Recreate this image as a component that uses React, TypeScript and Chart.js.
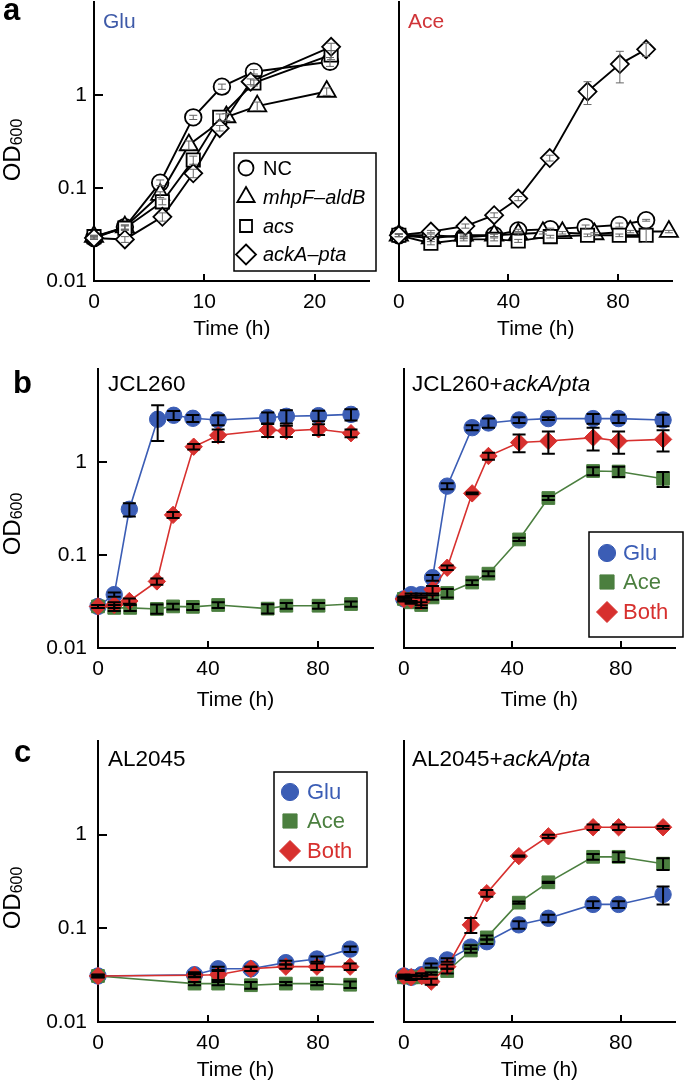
import React, { useEffect, useRef } from 'react';
import { Chart, registerables } from 'chart.js';
Chart.register(...registerables);

const FONT = '"Liberation Sans", Arial, Helvetica, sans-serif';
const BLUE = '#3b5db5';
const GREEN = '#4b7f3f';
const RED = '#d7302e';

// ---------- tick data ----------
const yTickValues = [0.01, 0.1, 1, 10];
const yTickLabels = ['0.01', '0.1', '1', null];
const shortTimeTicks = [0, 5, 10, 15, 20, 25];
const shortTimeLabels = ['0', null, '10', null, '20', null];
const longTimeTicks = [0, 20, 40, 60, 80, 100];
const longTimeLabels = ['0', null, '40', null, '80', null];

// ---------- panel a, Glu ----------
const aGluTimeNC = [0, 2.8, 6.0, 9.0, 11.6, 14.5, 21.4];
const aGluNC = [0.029, 0.038, 0.114, 0.575, 1.23, 1.78, 2.28];
const aGluNCsd = [0.001, 0.002, 0.008, 0.03, 0.08, 0.1, 0.25];
const aGluTimeMhpF = [0, 2.8, 6.0, 8.6, 12.0, 14.8, 21.1];
const aGluMhpF = [0.030, 0.038, 0.085, 0.29, 0.58, 0.76, 1.09];
const aGluMhpFsd = [0.001, 0.002, 0.006, 0.03, 0.05, 0.08, 0.1];
const aGluTimeAcs = [0, 2.8, 6.2, 9.0, 11.4, 14.5, 21.5];
const aGluAcs = [0.030, 0.037, 0.071, 0.20, 0.575, 1.35, 2.7];
const aGluAcssd = [0.001, 0.002, 0.005, 0.02, 0.05, 0.1, 0.3];
const aGluTimeAck = [0, 2.8, 6.2, 9.0, 11.4, 14.2, 21.5];
const aGluAck = [0.029, 0.028, 0.049, 0.144, 0.44, 1.39, 3.3];
const aGluAcksd = [0.001, 0.002, 0.005, 0.015, 0.03, 0.1, 0.3];

// ---------- panel a, Ace ----------
const aAceTimeNC = [0, 11.7, 23.7, 34.8, 43.6, 55.3, 68.2, 80.5, 90.3];
const aAceNC = [0.031, 0.031, 0.0295, 0.031, 0.035, 0.036, 0.038, 0.040, 0.045];
const aAceNCsd = [0.001, 0.001, 0.001, 0.001, 0.001, 0.001, 0.002, 0.002, 0.001];
const aAceTimeMhpF = [0, 11.7, 23.7, 34.8, 43.6, 52.6, 59.7, 71.4, 84.5, 98.6];
const aAceMhpF = [0.031, 0.029, 0.031, 0.031, 0.032, 0.033, 0.033, 0.032, 0.034, 0.034];
const aAceMhpFsd = [0.001, 0.001, 0.001, 0.001, 0.001, 0.001, 0.001, 0.001, 0.001, 0.001];
const aAceTimeAcs = [0, 11.7, 23.7, 34.8, 43.6, 55.3, 68.9, 80.5, 90.3];
const aAceAcs = [0.031, 0.0255, 0.028, 0.028, 0.027, 0.030, 0.031, 0.031, 0.031];
const aAceAcssd = [0.001, 0.001, 0.001, 0.001, 0.001, 0.001, 0.001, 0.001, 0.005];
const aAceTimeAck = [0, 11.7, 24.3, 34.8, 43.6, 55.1, 68.9, 80.7, 90.3];
const aAceAck = [0.031, 0.034, 0.039, 0.051, 0.077, 0.21, 1.09, 2.15, 3.1];
const aAceAcksd = [0.001, 0.001, 0.002, 0.003, 0.004, 0.015, 0.3, 0.8, 0.5];

// ---------- panel b, JCL260 ----------
const bLeftTimeGlu = [0, 5.9, 11.4, 21.7, 27.5, 34.5, 43.7, 61.7, 68.5, 80.2, 92];
const bLeftGlu = [0.028, 0.0375, 0.31, 2.88, 3.18, 2.95, 2.83, 3.0, 3.1, 3.15, 3.25];
const bLeftGlusd = [0.001, 0.002, 0.05, 1.2, 0.35, 0.25, 0.35, 0.4, 0.5, 0.4, 0.45];
const bLeftTimeAce = [0, 5.9, 11.7, 21.4, 27.3, 34.5, 43.7, 61.7, 68.5, 80.2, 92];
const bLeftAce = [0.028, 0.027, 0.027, 0.0263, 0.028, 0.0277, 0.029, 0.0265, 0.0285, 0.0285, 0.0297];
const bLeftAcesd = [0.001, 0.002, 0.002, 0.003, 0.002, 0.002, 0.002, 0.003, 0.002, 0.002, 0.002];
const bLeftTimeBoth = [0, 5.9, 11.4, 21.4, 27.3, 34.8, 43.7, 61.7, 68.5, 80.2, 92];
const bLeftBoth = [0.028, 0.029, 0.032, 0.052, 0.27, 1.46, 1.94, 2.21, 2.16, 2.25, 2.04];
const bLeftBothsd = [0.001, 0.002, 0.002, 0.004, 0.02, 0.1, 0.3, 0.35, 0.3, 0.3, 0.2];

// ---------- panel b, JCL260+ackA/pta ----------
const bRightTime = [0, 2.7, 6.4, 10.6, 16, 25.2, 31.2, 42.5, 53.3, 69.8, 79.2, 95.6];
const bRightGlu = [0.0337, 0.0375, 0.0375, 0.057, 0.55, 2.34, 2.63, 2.83, 2.93, 2.93, 2.93, 2.83];
const bRightGlusd = [0.001, 0.001, 0.001, 0.004, 0.04, 0.15, 0.3, 0.2, 0.1, 0.35, 0.3, 0.4];
const bRightAce = [0.0337, 0.031, 0.029, 0.035, 0.039, 0.0506, 0.063, 0.147, 0.41, 0.80, 0.79, 0.66];
const bRightAcesd = [0.001, 0.001, 0.002, 0.002, 0.004, 0.003, 0.004, 0.006, 0.02, 0.08, 0.1, 0.12];
const bRightBoth = [0.0337, 0.033, 0.0318, 0.0425, 0.073, 0.46, 1.16, 1.62, 1.68, 1.83, 1.68, 1.75];
const bRightBothsd = [0.002, 0.002, 0.003, 0.004, 0.004, 0.01, 0.1, 0.35, 0.45, 0.5, 0.45, 0.45];

// ---------- panel c, AL2045 ----------
const cLeftTime = [0, 35.1, 43.7, 55.6, 68.3, 79.6, 91.7];
const cLeftGlu = [0.031, 0.032, 0.037, 0.037, 0.043, 0.047, 0.060];
const cLeftGlusd = [0.001, 0.002, 0.002, 0.002, 0.002, 0.003, 0.004];
const cLeftAce = [0.031, 0.0257, 0.0257, 0.0247, 0.0257, 0.0257, 0.025];
const cLeftAcesd = [0.001, 0.001, 0.001, 0.002, 0.001, 0.001, 0.002];
const cLeftBoth = [0.031, 0.0316, 0.032, 0.037, 0.039, 0.039, 0.039];
const cLeftBothsd = [0.001, 0.001, 0.004, 0.002, 0.002, 0.003, 0.003];

// ---------- panel c, AL2045+ackA/pta ----------
const cRightTime = [0, 2.7, 6.6, 10.1, 16, 24.7, 30.6, 42.4, 53.3, 69.8, 79.2, 95.6];
const cRightGlu = [0.031, 0.030, 0.032, 0.040, 0.046, 0.063, 0.072, 0.109, 0.128, 0.18, 0.18, 0.23];
const cRightGlusd = [0.001, 0.001, 0.001, 0.002, 0.002, 0.003, 0.004, 0.01, 0.012, 0.015, 0.015, 0.05];
const cRightAce = [0.030, 0.030, 0.030, 0.033, 0.035, 0.058, 0.080, 0.188, 0.31, 0.58, 0.58, 0.49];
const cRightAcesd = [0.001, 0.001, 0.001, 0.001, 0.002, 0.003, 0.004, 0.005, 0.005, 0.04, 0.07, 0.07];
const cRightBoth = [0.031, 0.030, 0.031, 0.027, 0.039, 0.109, 0.237, 0.59, 0.96, 1.2, 1.2, 1.2];
const cRightBothsd = [0.001, 0.002, 0.002, 0.002, 0.002, 0.02, 0.02, 0.01, 0.04, 0.08, 0.08, 0.04];

// ---------- styles ----------
const ST_A = {
  NC: { shape: 'circle', r: 8.3, lr: 7.5, italic: false },
  mhpF: { shape: 'triangle', r: 10.5, lr: 10, italic: true },
  acs: { shape: 'rect', r: 9.4, lr: 8.5, italic: true },
  ack: { shape: 'rectRot', r: 9, lr: 10, italic: true },
};
const ST_B = {
  Glu: { shape: 'circle', r: 8.2, lr: 8.6, color: BLUE },
  Ace: { shape: 'rect', r: 9, lr: 10, color: GREEN },
  Both: { shape: 'rectRot', r: 8.7, lr: 10.5, color: RED },
};

function dsA(label, t, v, sd, st) {
  return {
    label, data: t.map((x, i) => ({ x, y: v[i] })), errors: sd,
    showLine: true, borderColor: '#000', borderWidth: 1.9,
    pointStyle: st.shape, pointRadius: st.r, pointBackgroundColor: '#fff',
    pointBorderColor: '#000', pointBorderWidth: 1.8, clip: false,
    italic: st.italic, legendR: st.lr, legendFill: '#fff', legendStroke: '#000', textColor: '#000',
  };
}
function dsB(label, t, v, sd, st) {
  return {
    label, data: t.map((x, i) => ({ x, y: v[i] })), errors: sd,
    showLine: true, borderColor: st.color, borderWidth: 1.6,
    pointStyle: st.shape, pointRadius: st.r, pointBackgroundColor: st.color,
    pointBorderColor: st.color, pointBorderWidth: 1, clip: false,
    italic: false, legendR: st.lr, legendFill: st.color, legendStroke: st.color, textColor: st.color,
  };
}

const ERR_A = { color: '#666', width: 1, cap: 4 };
const ERR_BC = { color: '#000', width: 2, cap: 6.5 };
const PAD_TOP = 30;

function mkPanel(p) {
  const cl = p.plot[0] - p.yAxisW;
  const ct = p.plot[1] - PAD_TOP;
  const cw = p.yAxisW + (p.plot[2] - p.plot[0]) + p.padRight;
  const ch = PAD_TOP + (p.plot[3] - p.plot[1]) + p.xAxisH;
  let legend = null;
  if (p.legend) {
    const L = p.legend;
    legend = {
      box: [L.box[0] - cl, L.box[1] - ct, L.box[2] - cl, L.box[3] - ct],
      rows: L.rows.map((r) => r - ct), symX: L.symX - cl, textX: L.textX - cl,
      size: L.size, order: L.order,
    };
  }
  return { ...p, cl, ct, cw, ch, legend };
}

const PANELS = [
  mkPanel({
    key: 'aL', plot: [94, 2, 376, 281], yAxisW: 94, xAxisH: 61, padRight: 6,
    xMax: 25, xTicks: shortTimeTicks, xLabels: shortTimeLabels, yShow: true, yPad: 7, err: ERR_A,
    datasets: [
      dsA('ackA–pta', aGluTimeAck, aGluAck, aGluAcksd, ST_A.ack),
      dsA('acs', aGluTimeAcs, aGluAcs, aGluAcssd, ST_A.acs),
      dsA('mhpF–aldB', aGluTimeMhpF, aGluMhpF, aGluMhpFsd, ST_A.mhpF),
      dsA('NC', aGluTimeNC, aGluNC, aGluNCsd, ST_A.NC),
    ],
    legend: { box: [234, 153, 376, 271], rows: [168, 197, 226, 254.5], symX: 246, textX: 263, size: 20,
      order: ['NC', 'mhpF–aldB', 'acs', 'ackA–pta'] },
  }),
  mkPanel({
    key: 'aR', plot: [396, 2, 679, 281], yAxisW: 12, xAxisH: 61, padRight: 6,
    xMax: 100, xTicks: longTimeTicks, xLabels: longTimeLabels, yShow: false, yPad: 7, err: ERR_A,
    datasets: [
      dsA('ackA–pta', aAceTimeAck, aAceAck, aAceAcksd, ST_A.ack),
      dsA('acs', aAceTimeAcs, aAceAcs, aAceAcssd, ST_A.acs),
      dsA('mhpF–aldB', aAceTimeMhpF, aAceMhpF, aAceMhpFsd, ST_A.mhpF),
      dsA('NC', aAceTimeNC, aAceNC, aAceNCsd, ST_A.NC),
    ],
  }),
  mkPanel({
    key: 'bL', plot: [98, 369, 379, 648], yAxisW: 98, xAxisH: 65, padRight: 4,
    xMax: 100, xTicks: longTimeTicks, xLabels: longTimeLabels, yShow: true, yPad: 11, err: ERR_BC,
    datasets: [
      dsB('Both', bLeftTimeBoth, bLeftBoth, bLeftBothsd, ST_B.Both),
      dsB('Ace', bLeftTimeAce, bLeftAce, bLeftAcesd, ST_B.Ace),
      dsB('Glu', bLeftTimeGlu, bLeftGlu, bLeftGlusd, ST_B.Glu),
    ],
  }),
  mkPanel({
    key: 'bR', plot: [401, 369, 683, 648], yAxisW: 12, xAxisH: 65, padRight: 2,
    xMax: 100, xTicks: longTimeTicks, xLabels: longTimeLabels, yShow: false, yPad: 11, err: ERR_BC,
    datasets: [
      dsB('Both', bRightTime, bRightBoth, bRightBothsd, ST_B.Both),
      dsB('Ace', bRightTime, bRightAce, bRightAcesd, ST_B.Ace),
      dsB('Glu', bRightTime, bRightGlu, bRightGlusd, ST_B.Glu),
    ],
    legend: { box: [589, 532, 683, 637], rows: [553, 582, 612], symX: 607, textX: 623, size: 22,
      order: ['Glu', 'Ace', 'Both'] },
  }),
  mkPanel({
    key: 'cL', plot: [98, 741, 379, 1022], yAxisW: 98, xAxisH: 61, padRight: 4,
    xMax: 100, xTicks: longTimeTicks, xLabels: longTimeLabels, yShow: true, yPad: 11, err: ERR_BC,
    datasets: [
      dsB('Both', cLeftTime, cLeftBoth, cLeftBothsd, ST_B.Both),
      dsB('Ace', cLeftTime, cLeftAce, cLeftAcesd, ST_B.Ace),
      dsB('Glu', cLeftTime, cLeftGlu, cLeftGlusd, ST_B.Glu),
    ],
    legend: { box: [274, 772, 367, 867], rows: [792, 821, 851], symX: 290, textX: 307, size: 22,
      order: ['Glu', 'Ace', 'Both'] },
  }),
  mkPanel({
    key: 'cR', plot: [401, 741, 683, 1022], yAxisW: 12, xAxisH: 61, padRight: 2,
    xMax: 100, xTicks: longTimeTicks, xLabels: longTimeLabels, yShow: false, yPad: 11, err: ERR_BC,
    datasets: [
      dsB('Both', cRightTime, cRightBoth, cRightBothsd, ST_B.Both),
      dsB('Ace', cRightTime, cRightAce, cRightAcesd, ST_B.Ace),
      dsB('Glu', cRightTime, cRightGlu, cRightGlusd, ST_B.Glu),
    ],
  }),
];

function shapePath(ctx, shape, x, y, r) {
  ctx.beginPath();
  if (shape === 'circle') {
    ctx.arc(x, y, r, 0, Math.PI * 2);
  } else if (shape === 'rect') {
    const s = r * Math.SQRT1_2;
    ctx.rect(x - s, y - s, 2 * s, 2 * s);
  } else if (shape === 'rectRot') {
    ctx.moveTo(x, y - r); ctx.lineTo(x + r, y); ctx.lineTo(x, y + r); ctx.lineTo(x - r, y);
    ctx.closePath();
  } else if (shape === 'triangle') {
    let a = 0;
    ctx.moveTo(x + Math.sin(a) * r, y - Math.cos(a) * r);
    a += (2 * Math.PI) / 3;
    ctx.lineTo(x + Math.sin(a) * r, y - Math.cos(a) * r);
    a += (2 * Math.PI) / 3;
    ctx.lineTo(x + Math.sin(a) * r, y - Math.cos(a) * r);
    ctx.closePath();
  }
}

const axisTicksPlugin = {
  id: 'inTicks',
  beforeDatasetsDraw(chart) {
    const { ctx, chartArea: ca } = chart;
    const xs = chart.scales.x;
    const ys = chart.scales.y;
    ctx.save();
    ctx.strokeStyle = '#000';
    ctx.lineWidth = 2;
    xs.ticks.forEach((t) => {
      const px = Math.round(xs.getPixelForValue(t.value));
      ctx.beginPath(); ctx.moveTo(px, ca.bottom); ctx.lineTo(px, ca.bottom - 7); ctx.stroke();
    });
    ys.ticks.forEach((t) => {
      const py = Math.round(ys.getPixelForValue(t.value));
      ctx.beginPath(); ctx.moveTo(ca.left, py); ctx.lineTo(ca.left + 9, py); ctx.stroke();
    });
    ctx.restore();
  },
};

const errBarPlugin = {
  id: 'errbars',
  afterDatasetsDraw(chart, _args, opts) {
    const { ctx } = chart;
    const ys = chart.scales.y;
    chart.data.datasets.forEach((ds, di) => {
      const sd = ds.errors;
      if (!sd) return;
      const meta = chart.getDatasetMeta(di);
      ctx.save();
      ctx.strokeStyle = opts.color;
      ctx.lineWidth = opts.width;
      meta.data.forEach((pt, i) => {
        const v = ds.data[i].y;
        const e = sd[i] || 0;
        const top = ys.getPixelForValue(v + e);
        const bot = ys.getPixelForValue(Math.max(v - e, 1e-4));
        const px = pt.x;
        ctx.beginPath();
        ctx.moveTo(px, top); ctx.lineTo(px, bot);
        ctx.moveTo(px - opts.cap, top); ctx.lineTo(px + opts.cap, top);
        ctx.moveTo(px - opts.cap, bot); ctx.lineTo(px + opts.cap, bot);
        ctx.stroke();
      });
      ctx.restore();
    });
  },
};

const boxLegendPlugin = {
  id: 'boxLegend',
  afterDraw(chart, _args, opts) {
    if (!opts || !opts.box) return;
    const { ctx } = chart;
    const [x0, y0, x1, y1] = opts.box;
    ctx.save();
    ctx.fillStyle = '#fff';
    ctx.fillRect(x0, y0, x1 - x0, y1 - y0);
    ctx.strokeStyle = '#000';
    ctx.lineWidth = 1.5;
    ctx.strokeRect(x0, y0, x1 - x0, y1 - y0);
    opts.order.forEach((label, i) => {
      const ds = chart.data.datasets.find((d) => d.label === label);
      if (!ds) return;
      const y = opts.rows[i];
      shapePath(ctx, ds.pointStyle, opts.symX, y, ds.legendR);
      ctx.fillStyle = ds.legendFill;
      ctx.fill();
      ctx.strokeStyle = ds.legendStroke;
      ctx.lineWidth = ds.legendFill === '#fff' ? 1.8 : 1;
      ctx.stroke();
      ctx.fillStyle = ds.textColor;
      ctx.font = `${ds.italic ? 'italic ' : ''}${opts.size}px ${FONT}`;
      ctx.textBaseline = 'middle';
      ctx.textAlign = 'left';
      ctx.fillText(label, opts.textX, y + 1);
    });
    ctx.restore();
  },
};

function Panel({ p }) {
  const ref = useRef(null);
  useEffect(() => {
    const tickFont = { family: FONT, size: 21 };
    const chart = new Chart(ref.current, {
      type: 'scatter',
      data: { datasets: p.datasets },
      options: {
        responsive: false,
        animation: false,
        devicePixelRatio: 1,
        events: [],
        layout: { padding: { top: PAD_TOP, right: p.padRight, left: 0, bottom: 0 } },
        plugins: {
          legend: { display: false },
          tooltip: { enabled: false },
          errbars: p.err,
          boxLegend: p.legend || {},
        },
        elements: { line: { tension: 0 } },
        scales: {
          x: {
            type: 'linear', position: 'bottom', min: 0, max: p.xMax,
            afterBuildTicks: (s) => { s.ticks = p.xTicks.map((v) => ({ value: v })); },
            afterFit: (s) => { s.height = p.xAxisH; },
            grid: { display: false, drawTicks: false },
            border: { display: true, color: '#000', width: 2 },
            ticks: {
              autoSkip: false, maxRotation: 0, padding: 9, color: '#000', font: tickFont,
              callback: (_v, i) => p.xLabels[i],
            },
            title: { display: true, text: 'Time (h)', color: '#000', font: tickFont, padding: { top: 0, bottom: 0 } },
          },
          y: {
            type: 'logarithmic', position: 'left', min: 0.01, max: 10,
            afterBuildTicks: (s) => { s.ticks = yTickValues.map((v) => ({ value: v })); },
            afterFit: (s) => { s.width = p.yAxisW; },
            grid: { display: false, drawTicks: false },
            border: { display: true, color: '#000', width: 2 },
            ticks: {
              autoSkip: false, padding: p.yPad, color: '#000', font: tickFont,
              callback: (_v, i) => (p.yShow ? yTickLabels[i] : null),
            },
          },
        },
      },
      plugins: [axisTicksPlugin, errBarPlugin, boxLegendPlugin],
    });
    return () => chart.destroy();
  }, [p]);
  return (
    <canvas
      ref={ref}
      width={p.cw}
      height={p.ch}
      style={{ position: 'absolute', left: p.cl, top: p.ct, width: p.cw, height: p.ch }}
    />
  );
}

function Txt({ x, base, size, color = '#000', bold = false, children }) {
  return (
    <div
      style={{
        position: 'absolute', left: x, top: base - 0.8465 * size, fontSize: size, lineHeight: 1,
        fontFamily: FONT, color, fontWeight: bold ? 700 : 400, whiteSpace: 'nowrap',
      }}
    >
      {children}
    </div>
  );
}

function YTitle({ cx, cy }) {
  return (
    <div
      style={{
        position: 'absolute', left: cx, top: cy, transform: 'translate(-50%, -50%) rotate(-90deg)',
        fontFamily: FONT, fontSize: 24, lineHeight: 1, whiteSpace: 'nowrap', color: '#000',
      }}
    >
      OD<span style={{ fontSize: 16, position: 'relative', top: 2 }}>600</span>
    </div>
  );
}

export default function App() {
  return (
    <div
      style={{
        position: 'absolute', left: 0, top: 0, width: 685, height: 1085, overflow: 'hidden',
        background: '#fff',
      }}
    >
      {PANELS.map((p) => (
        <Panel key={p.key} p={p} />
      ))}
      <Txt x={3} base={20} size={31} bold>a</Txt>
      <Txt x={13} base={393} size={31} bold>b</Txt>
      <Txt x={14} base={762} size={31} bold>c</Txt>
      <YTitle cx={12} cy={150} />
      <YTitle cx={12} cy={524} />
      <YTitle cx={12} cy={898} />
      <Txt x={103} base={28} size={21} color="#3e5aa8">Glu</Txt>
      <Txt x={408} base={28} size={21} color="#d03438">Ace</Txt>
      <Txt x={108} base={392} size={22.5}>JCL260</Txt>
      <Txt x={412} base={392} size={22.5}>JCL260+<i>ackA/pta</i></Txt>
      <Txt x={108} base={767} size={22.5}>AL2045</Txt>
      <Txt x={412} base={767} size={22.5}>AL2045+<i>ackA/pta</i></Txt>
    </div>
  );
}
